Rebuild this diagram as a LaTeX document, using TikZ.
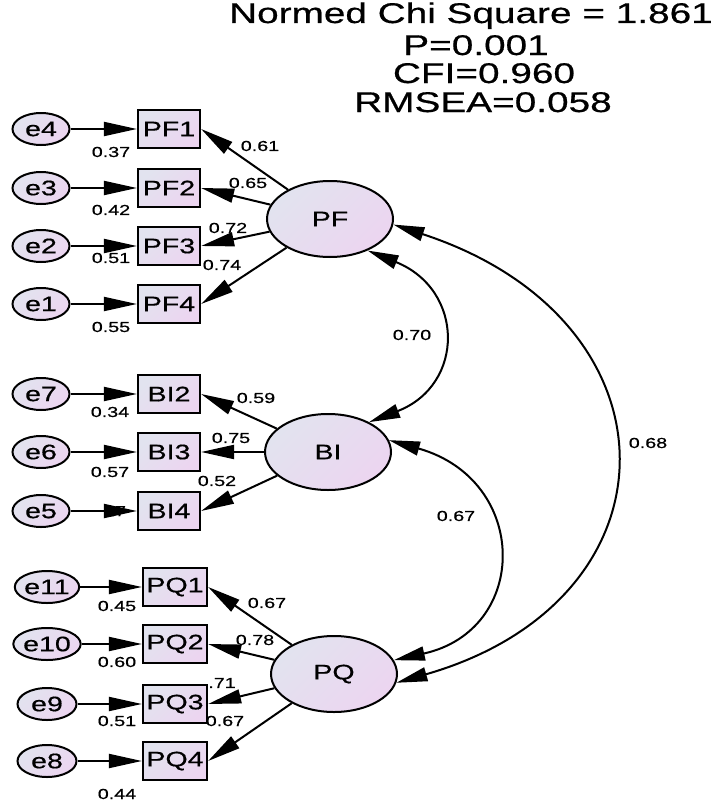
\documentclass[tikz,border=0pt]{standalone}
\usepackage{fontspec}
\setmainfont[FakeStretch=1.36,FakeBold=0.6]{Liberation Sans}
\usetikzlibrary{shapes.geometric,arrows.meta}
\definecolor{lavA}{HTML}{E2E3EF}
\definecolor{lavB}{HTML}{ECD5F0}
\begin{document}
\begin{tikzpicture}[x=1pt,y=-1pt,
  lav/.style={top color=lavA,bottom color=lavB,shading angle=45},
  err/.style={ellipse,draw,line width=2pt,minimum width=57pt,minimum height=32pt,inner sep=0pt,font=\fontsize{21}{21}\selectfont,lav},
  errw/.style={err,minimum width=59pt},
  obs/.style={rectangle,draw,line width=2.2pt,minimum width=62pt,minimum height=38pt,inner sep=0pt,font=\fontsize{21}{21}\selectfont,lav},
  obsw/.style={obs,minimum width=64pt},
  lat/.style={ellipse,draw,line width=2pt,minimum width=126pt,minimum height=76pt,inner sep=0pt,font=\fontsize{21}{21}\selectfont,lav},
  lbl/.style={font=\fontsize{14.5}{15}\selectfont,inner sep=0pt},
  ttl/.style={font=\fontsize{28.5}{30}\selectfont,inner sep=0pt,anchor=base},
  arr/.style={line width=2pt,-{Triangle[length=33pt,width=14pt]}},
  cov/.style={line width=2pt,{Triangle[length=31pt,width=14pt]}-{Triangle[length=31pt,width=14pt]}}]
\useasboundingbox (0,0) rectangle (720,803);

% fit indices
\node[ttl] (t1) at (471,23) {Normed Chi Square = 1.861};
\node[ttl] (t2) at (476,55) {P=0.001};
\node[ttl] (t3) at (484,83) {CFI=0.960};
\node[ttl] (t4) at (483,112) {RMSEA=0.058};

% latent variables
\node[lat] (PF) at (330,219) {PF};
\node[lat] (BI) at (328,452) {BI};
\node[lat] (PQ) at (334,674) {PQ};

% PF block
\node[err] (e4) at (41,129) {e4};
\node[err] (e3) at (41,188) {e3};
\node[err] (e2) at (41,246) {e2};
\node[err] (e1) at (41,304) {e1};
\node[obs] (PF1) at (169,129) {PF1};
\node[obs] (PF2) at (169,188) {PF2};
\node[obs] (PF3) at (169,246) {PF3};
\node[obs] (PF4) at (169,304) {PF4};

% BI block
\node[err] (e7) at (41,394) {e7};
\node[err] (e6) at (41,452) {e6};
\node[err] (e5) at (41,511) {e5};
\node[obs] (BI2) at (169,394) {BI2};
\node[obs] (BI3) at (169,452) {BI3};
\node[obs] (BI4) at (169,511) {BI4};

% PQ block
\node[errw] (e11) at (47,587) {e11};
\node[errw] (e10) at (47,644) {e10};
\node[errw] (e9) at (47,704) {e9};
\node[errw] (e8) at (47,761) {e8};
\node[obsw] (PQ1) at (175,587) {PQ1};
\node[obsw] (PQ2) at (175,644) {PQ2};
\node[obsw] (PQ3) at (175,704) {PQ3};
\node[obsw] (PQ4) at (175,761) {PQ4};

% error arrows
\draw[arr] (e4) -- (PF1);
\draw[arr] (e3) -- (PF2);
\draw[arr] (e2) -- (PF3);
\draw[arr] (e1) -- (PF4);
\draw[arr] (e7) -- (BI2);
\draw[arr] (e6) -- (BI3);
\draw[arr] (e5) -- (BI4);
\draw[arr] (e11) -- (PQ1);
\draw[arr] (e10) -- (PQ2);
\draw[arr] (e9) -- (PQ3);
\draw[arr] (e8) -- (PQ4);

% loadings
\draw[arr] (PF) -- (PF1.east);
\draw[arr] (PF) -- (PF2.east);
\draw[arr] (PF) -- (PF3.east);
\draw[arr] (PF) -- (PF4.east);
\draw[arr] (BI) -- (BI2.east);
\draw[arr] (BI) -- (BI3.east);
\draw[arr] (BI) -- (BI4.east);
\draw[arr] (PQ) -- (PQ1.east);
\draw[arr] (PQ) -- (PQ2.east);
\draw[arr] (PQ) -- (PQ3.east);
\draw[arr] (PQ) -- (PQ4.east);

% covariances
\draw[cov] (PF.-40) .. controls (465,290) and (465,385) .. (BI.36);
\draw[cov] (BI.11) .. controls (530,480) and (530,630) .. (PQ.13);
\draw[cov] (PF.-5) .. controls (685,320) and (685,600) .. (PQ.-8);

% residual labels
\node[lbl] (r37) at (111,152) {0.37};
\node[lbl] (r42) at (111,210) {0.42};
\node[lbl] (r51a) at (111,258) {0.51};
\node[lbl] (r55) at (111,327) {0.55};
\node[lbl] (r34) at (110,412) {0.34};
\node[lbl] (r57) at (110,472) {0.57};
\node[lbl] (l27) at (115,511) {27};
\node[lbl] (r45) at (117,606) {0.45};
\node[lbl] (r60) at (117,662) {0.60};
\node[lbl] (r51b) at (117,721) {0.51};
\node[lbl] (r44) at (117,794) {0.44};

% loading labels
\node[lbl] (w61) at (260,146) {0.61};
\node[lbl] (w65) at (248,183) {0.65};
\node[lbl] (w72) at (228,228) {0.72};
\node[lbl] (w74) at (222,265) {0.74};
\node[lbl] (w59) at (256,398) {0.59};
\node[lbl] (w75) at (231,438) {0.75};
\node[lbl] (w52) at (217,481) {0.52};
\node[lbl] (w67a) at (267,603) {0.67};
\node[lbl] (w78) at (255,640) {0.78};
\node[lbl] (w71) at (222,683) {.71};
\node[lbl] (w67b) at (225,721) {0.67};

% covariance labels
\node[lbl] (c70) at (412,335) {0.70};
\node[lbl] (c67) at (456,516) {0.67};
\node[lbl] (c68) at (648,443) {0.68};
\end{tikzpicture}
\end{document}
